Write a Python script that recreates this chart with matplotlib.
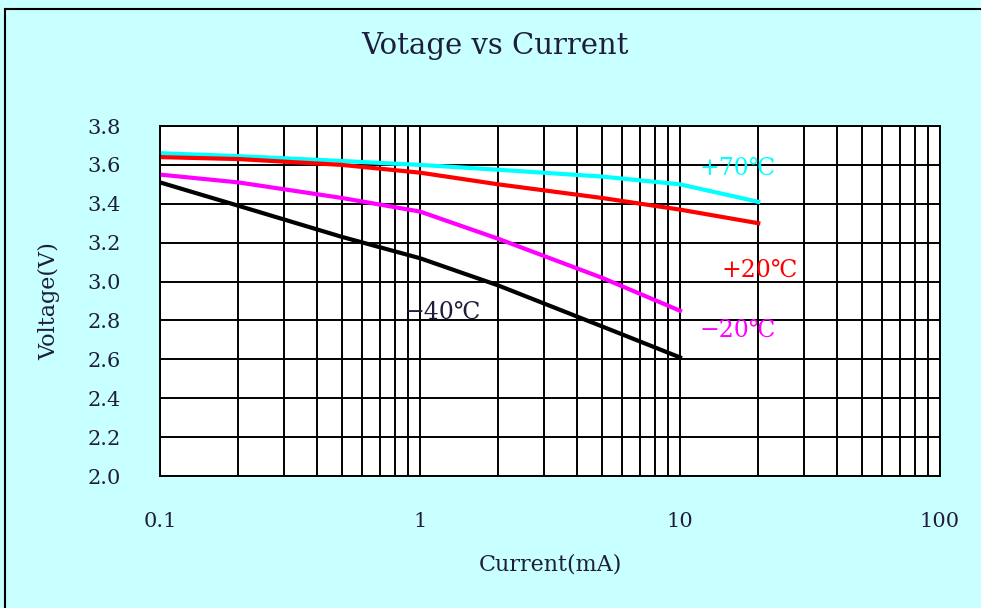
import matplotlib.pyplot as plt
from matplotlib.lines import Line2D
from matplotlib.ticker import FixedLocator, NullFormatter

plt.rcParams['font.family'] = ['DejaVu Serif', 'Noto Sans CJK SC']

# Data
current = [0.1, 0.2, 0.5, 1, 2, 5, 10, 20]
v_plus70 = [3.66, 3.645, 3.62, 3.60, 3.575, 3.54, 3.50, 3.41]
v_plus20 = [3.64, 3.63, 3.60, 3.56, 3.50, 3.43, 3.37, 3.30]
v_minus20 = [3.55, 3.51, 3.43, 3.36, 3.22, 3.02, 2.85]
v_minus40 = [3.51, 3.39, 3.23, 3.12, 2.98, 2.77, 2.61]

y_ticks = [2.0, 2.2, 2.4, 2.6, 2.8, 3.0, 3.2, 3.4, 3.6, 3.8]
x_ticks = [0.1, 1, 10, 100]
x_ticklabels = ['0.1', '1', '10', '100']

bg = '#C8FFFF'
txt = '#1e1e3c'

fig = plt.figure(figsize=(9.81, 6.08), dpi=100, facecolor=bg)
ax = fig.add_axes([160 / 981, 1 - 476 / 608, 780 / 981, 350 / 608])
ax.set_facecolor('white')

ax.plot(current, v_plus70, color='#00FFFF', lw=3)
ax.plot(current, v_plus20, color='#FF0000', lw=3)
ax.plot(current[:7], v_minus20, color='#FF00FF', lw=3)
ax.plot(current[:7], v_minus40, color='black', lw=3)

ax.set_xscale('log')
ax.set_xlim(0.1, 100)
ax.set_ylim(2.0, 3.8)
ax.xaxis.set_major_locator(FixedLocator(x_ticks))
ax.set_xticklabels(x_ticklabels)
minor = [m * d for d in (0.1, 1, 10) for m in range(2, 10)]
ax.xaxis.set_minor_locator(FixedLocator(minor))
ax.xaxis.set_minor_formatter(NullFormatter())
ax.set_yticks(y_ticks)
ax.set_yticklabels([f'{v:.1f}' for v in y_ticks])

ax.grid(True, which='both', axis='x', color='black', lw=1.4)
ax.grid(True, which='major', axis='y', color='black', lw=1.4)
ax.set_axisbelow(True)
for s in ax.spines.values():
    s.set_color('black')
    s.set_linewidth(1.4)
ax.tick_params(which='both', length=0, labelsize=15, colors=txt)
ax.tick_params(axis='x', pad=26)
ax.tick_params(axis='y', pad=28)

fig.text(495 / 981, 1 - 46 / 608, 'Votage vs Current', fontsize=21, color=txt,
         ha='center', va='center')
ax.set_xlabel('Current(mA)', fontsize=16, color=txt, labelpad=16)
ax.set_ylabel('Voltage(V)', fontsize=16, color=txt, labelpad=20)

ax.text(16.7, 3.584, '+70℃', color='#00FFFF', fontsize=17, ha='center', va='center')
ax.text(20.3, 3.059, '+20℃', color='#FF0000', fontsize=17, ha='center', va='center')
ax.text(16.7, 2.75, '−20℃', color='#FF00FF', fontsize=17, ha='center', va='center')
ax.text(1.22, 2.843, '−40℃', color=txt, fontsize=17, ha='center', va='center')

# frame around the picture (top and left edges visible)
fig.add_artist(Line2D([5 / 981, 1], [1 - 9 / 608, 1 - 9 / 608], color='black', lw=1.5))
fig.add_artist(Line2D([5 / 981, 5 / 981], [0, 1 - 9 / 608], color='black', lw=1.5))

fig.savefig('out.png', dpi=100, facecolor=bg)
